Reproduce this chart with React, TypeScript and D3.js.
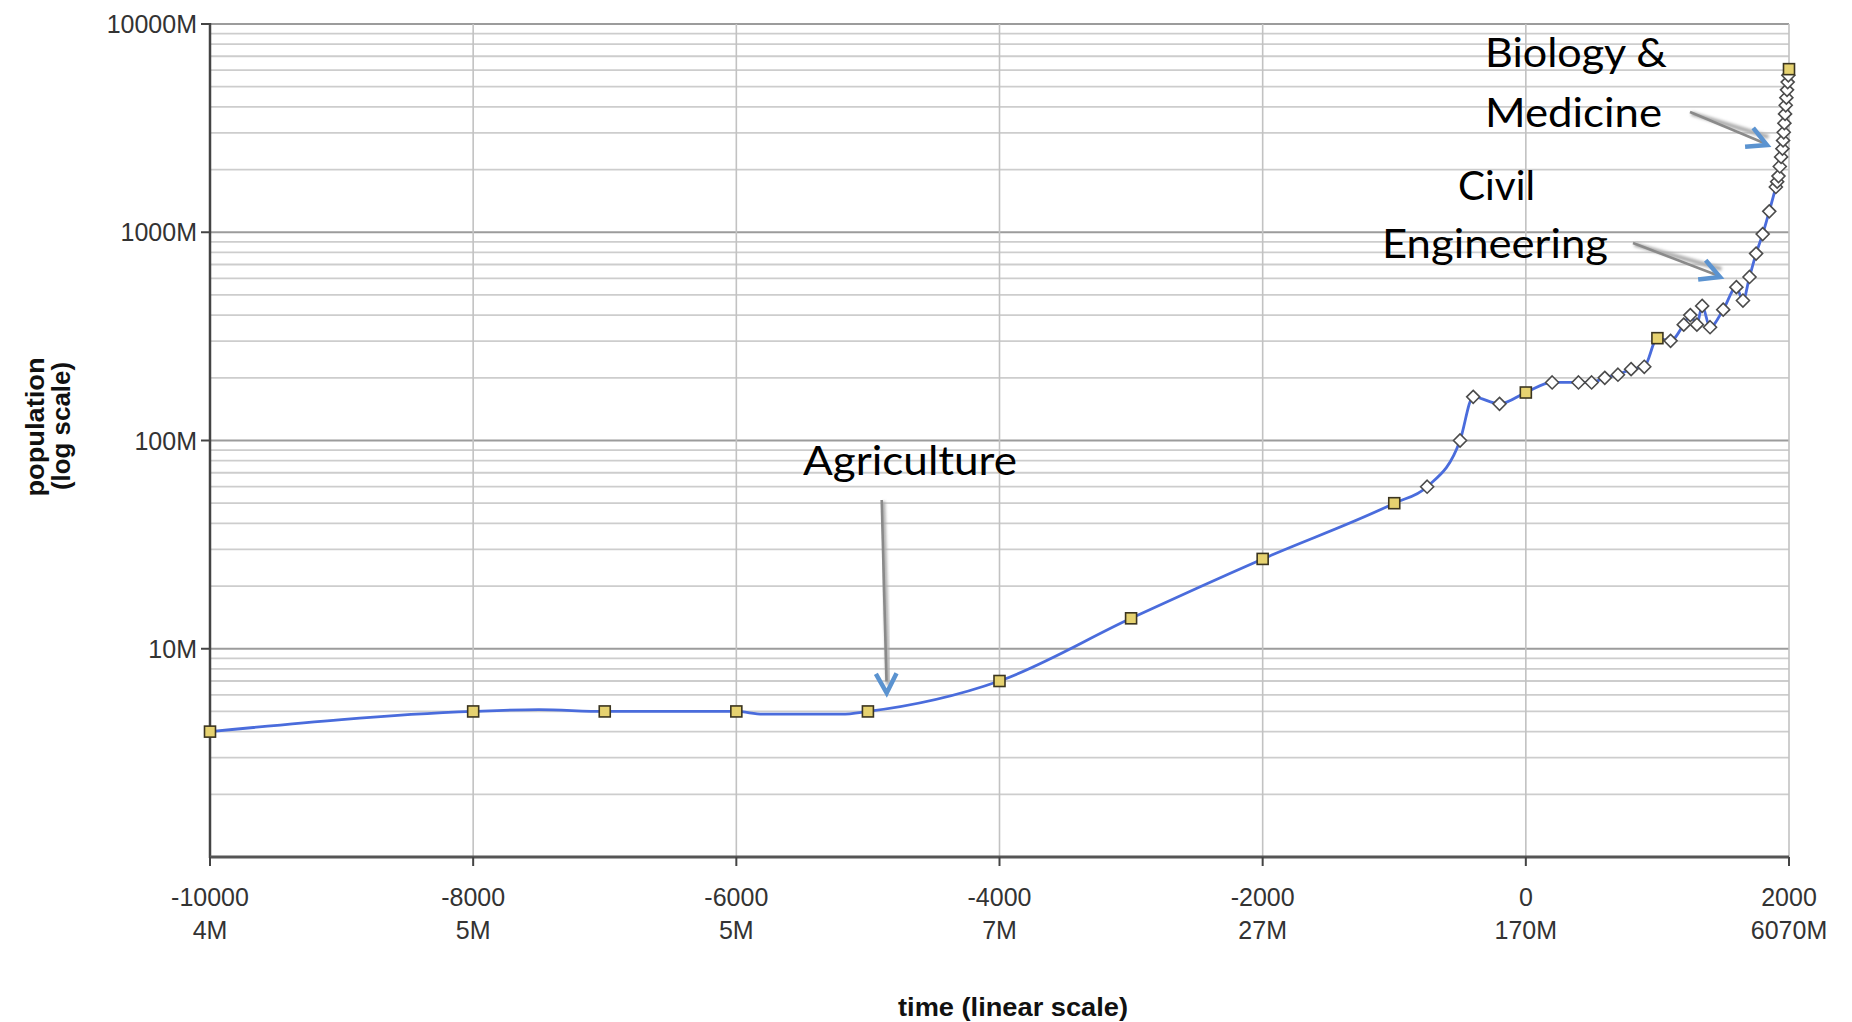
import React, { useEffect } from "react";
import * as d3 from "d3";

// ---- data (population in millions) ----
const squareYears = [-10000, -8000, -7000, -6000, -5000, -4000, -3000, -2000, -1000, 0, 1000, 2000];
const squarePops = [4, 5, 5, 5, 5, 7, 14, 27, 50, 170, 310, 6070];

const diamondYears = [
  -750, -500, -400, -200, 200, 400, 500, 600, 700, 800, 900, 1100, 1200, 1250, 1300, 1340, 1400,
  1500, 1600, 1650, 1700, 1750, 1800, 1850, 1900, 1910, 1920, 1930, 1940, 1950, 1955, 1960, 1965,
  1970, 1975, 1980, 1985, 1990, 1995,
];
const diamondPops = [
  60, 100, 162, 150, 190, 190, 190, 200, 207, 220, 226, 301, 360, 400, 360, 443, 350,
  425, 545, 470, 610, 790, 980, 1260, 1650, 1750, 1860, 2070, 2300, 2520, 2760, 3020, 3340,
  3700, 4070, 4430, 4830, 5260, 5670,
];

// points on the curve without a marker
const plainYears = [-7500, -5800, -5200];
const plainPops = [5.1, 4.85, 4.85];

const xTickYears = [-10000, -8000, -6000, -4000, -2000, 0, 2000];
const xTickPops = ["4M", "5M", "5M", "7M", "27M", "170M", "6070M"];
const yTickValues = [10, 100, 1000, 10000];
const yTickLabels = ["10M", "100M", "1000M", "10000M"];

const W = 1852;
const H = 1022;

type Pt = { year: number; pop: number };

function chevron(sx: number, sy: number, tx: number, ty: number, len: number, ang: number) {
  const dx = tx - sx;
  const dy = ty - sy;
  const l = Math.hypot(dx, dy);
  const ux = -dx / l;
  const uy = -dy / l;
  const rot = (a: number) => [
    tx + len * (ux * Math.cos(a) - uy * Math.sin(a)),
    ty + len * (ux * Math.sin(a) + uy * Math.cos(a)),
  ];
  const a1 = rot(ang);
  const a2 = rot(-ang);
  return `M${a1[0]},${a1[1]}L${tx},${ty}L${a2[0]},${a2[1]}`;
}

export default function App() {
  useEffect(() => {
    document.body.style.margin = "0";
    document.body.style.overflow = "hidden";
  }, []);

  const x = d3.scaleLinear().domain([-10000, 2000]).range([210, 1789]);
  const y = d3.scaleLog().domain([1, 10000]).range([857, 24]);

  const squares: Pt[] = squareYears.map((yr, i) => ({ year: yr, pop: squarePops[i] }));
  const diamonds: Pt[] = diamondYears.map((yr, i) => ({ year: yr, pop: diamondPops[i] }));
  const plain: Pt[] = plainYears.map((yr, i) => ({ year: yr, pop: plainPops[i] }));
  const all = [...squares, ...diamonds, ...plain].sort((a, b) => a.year - b.year);

  const line = d3
    .line<Pt>()
    .x((d) => x(d.year))
    .y((d) => y(d.pop))
    .curve(d3.curveMonotoneX);

  const minor: number[] = [];
  [1, 10, 100, 1000].forEach((dec) => {
    for (let k = 2; k <= 9; k++) minor.push(dec * k);
  });

  const [x0, x1] = x.range();
  const [yb, yt] = y.range();

  const tickFont = "'Liberation Sans', Arial, sans-serif";
  const annFont = "Lato, 'Open Sans', sans-serif";

  const arrows = [
    { s: [881.7, 500], t: [886.7, 693] },
    { s: [1633, 243], t: [1720, 277] },
    { s: [1690, 112], t: [1767, 145] },
  ];

  const annTexts = [
    { text: "Agriculture", x: 803, y: 475, w: 214 },
    { text: "Biology &", x: 1485, y: 67, w: 182 },
    { text: "Medicine", x: 1485, y: 127, w: 177 },
    { text: "Civil", x: 1458, y: 200, w: 77 },
    { text: "Engineering", x: 1382, y: 258, w: 226 },
  ];

  return (
    <svg
      width={W}
      height={H}
      style={{ position: "absolute", left: 0, top: 0, background: "#fff" }}
      xmlns="http://www.w3.org/2000/svg"
    >
      <defs>
        <filter id="soft" x="-20%" y="-20%" width="140%" height="140%">
          <feGaussianBlur stdDeviation="1.6" />
        </filter>
      </defs>
      <rect x={0} y={0} width={W} height={H} fill="#fff" />

      {/* minor horizontal gridlines */}
      {minor.map((v) => (
        <line key={"mn" + v} x1={x0} x2={x1} y1={y(v)} y2={y(v)} stroke="#cdcdcd" strokeWidth={1.8} />
      ))}
      {/* major horizontal gridlines */}
      {yTickValues.map((v) => (
        <line key={"mj" + v} x1={x0} x2={x1} y1={y(v)} y2={y(v)} stroke="#9c9c9c" strokeWidth={2} />
      ))}
      {/* vertical gridlines */}
      {xTickYears.slice(1).map((yr) => (
        <line key={"vg" + yr} x1={x(yr)} x2={x(yr)} y1={yt} y2={yb} stroke="#c2c2c2" strokeWidth={1.6} />
      ))}

      {/* axes */}
      <line x1={x0} x2={x0} y1={yt - 1} y2={yb + 1} stroke="#444" strokeWidth={2.5} />
      <line x1={x0} x2={x1} y1={yb} y2={yb} stroke="#555" strokeWidth={3} />
      {yTickValues.map((v) => (
        <line key={"yt" + v} x1={x0 - 9} x2={x0} y1={y(v)} y2={y(v)} stroke="#444" strokeWidth={2} />
      ))}
      {xTickYears.map((yr) => (
        <line key={"xt" + yr} x1={x(yr)} x2={x(yr)} y1={yb} y2={yb + 9} stroke="#444" strokeWidth={2} />
      ))}

      {/* y tick labels */}
      {yTickValues.map((v, i) => (
        <text
          key={"yl" + v}
          x={197}
          y={y(v)}
          textAnchor="end"
          dominantBaseline="central"
          fontFamily={tickFont}
          fontSize={25}
          fill="#333"
        >
          {yTickLabels[i]}
        </text>
      ))}

      {/* x tick labels */}
      {xTickYears.map((yr, i) => (
        <g key={"xl" + yr}>
          <text x={x(yr)} y={897} textAnchor="middle" dominantBaseline="central" fontFamily={tickFont} fontSize={25} fill="#333">
            {String(yr)}
          </text>
          <text x={x(yr)} y={930} textAnchor="middle" dominantBaseline="central" fontFamily={tickFont} fontSize={25} fill="#333">
            {xTickPops[i]}
          </text>
        </g>
      ))}

      {/* axis titles */}
      <text
        x={1013}
        y={1007}
        textAnchor="middle"
        dominantBaseline="central"
        fontFamily={tickFont}
        fontWeight="bold"
        fontSize={26}
        fill="#111"
        textLength={230}
        lengthAdjust="spacingAndGlyphs"
      >
        time (linear scale)
      </text>
      <text
        transform="translate(35,427) rotate(-90)"
        textAnchor="middle"
        dominantBaseline="central"
        fontFamily={tickFont}
        fontWeight="bold"
        fontSize={26}
        fill="#111"
        textLength={139}
        lengthAdjust="spacingAndGlyphs"
      >
        population
      </text>
      <text
        transform="translate(61,426) rotate(-90)"
        textAnchor="middle"
        dominantBaseline="central"
        fontFamily={tickFont}
        fontWeight="bold"
        fontSize={26}
        fill="#111"
        textLength={128}
        lengthAdjust="spacingAndGlyphs"
      >
        (log scale)
      </text>

      {/* population line */}
      <path d={line(all) || ""} fill="none" stroke="#4a6cdc" strokeWidth={2.8} strokeLinejoin="round" />

      {/* diamonds */}
      {diamonds.map((d) => (
        <path
          key={"dm" + d.year}
          transform={`translate(${x(d.year)},${y(d.pop)})`}
          d="M0,-6.5L6.5,0L0,6.5L-6.5,0Z"
          fill="#fff"
          stroke="#4b4b4b"
          strokeWidth={1.6}
        />
      ))}
      {/* squares */}
      {squares.map((d) => (
        <rect
          key={"sq" + d.year}
          x={x(d.year) - 5.5}
          y={y(d.pop) - 5.5}
          width={11}
          height={11}
          fill="#e6d270"
          stroke="#3b3520"
          strokeWidth={1.6}
        />
      ))}

      {/* annotation arrows */}
      {arrows.map((a, i) => (
        <g key={"ar" + i}>
          <line x1={a.s[0] + 1.5} y1={a.s[1] + 1.5} x2={a.t[0] + 1.5} y2={a.t[1] - 8} stroke="#aaa" strokeWidth={4} filter="url(#soft)" />
          <line x1={a.s[0]} y1={a.s[1]} x2={a.t[0] - (a.t[0] - a.s[0]) * 0.04} y2={a.t[1] - (a.t[1] - a.s[1]) * 0.06} stroke="#8a8a8a" strokeWidth={2.6} />
          <path d={chevron(a.s[0], a.s[1], a.t[0], a.t[1], 22, (28 * Math.PI) / 180)} fill="none" stroke="#5b93d0" strokeWidth={4.5} strokeLinejoin="miter" />
        </g>
      ))}

      {/* annotation texts */}
      {annTexts.map((t) => (
        <text
          key={t.text}
          x={t.x}
          y={t.y}
          fontFamily={annFont}
          fontSize={41}
          fill="#000"
          textLength={t.w}
          lengthAdjust="spacingAndGlyphs"
        >
          {t.text}
        </text>
      ))}
    </svg>
  );
}
